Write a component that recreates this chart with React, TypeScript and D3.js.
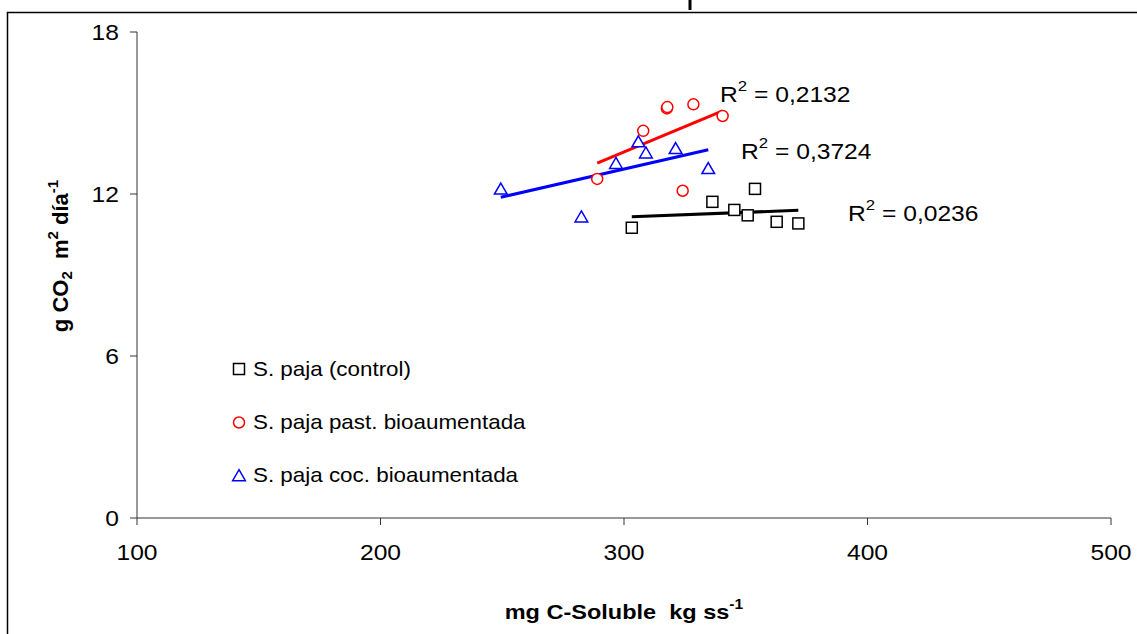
import React from "react";
import * as d3 from "d3";

const xTicks = [100, 200, 300, 400, 500];
const yTicks = [0, 6, 12, 18];

const controlX = [303.2, 336.3, 353.8, 345.3, 350.8, 362.7, 371.6];
const controlY = [10.75, 11.71, 12.19, 11.41, 11.21, 10.97, 10.91];

const pastX = [289.0, 307.9, 317.6, 317.8, 328.5, 340.5, 324.1];
const pastY = [12.56, 14.34, 15.17, 15.22, 15.32, 14.89, 12.12];

const cocX = [249.4, 282.5, 296.7, 305.9, 309.0, 321.2, 334.6];
const cocY = [12.17, 11.14, 13.12, 13.92, 13.51, 13.67, 12.93];

const seriesNames = ["S. paja (control)", "S. paja past. bioaumentada", "S. paja coc. bioaumentada"];
const seriesColors = ["#000000", "#ff0000", "#0000ff"];
const seriesShapes = ["square", "circle", "triangle"];
const r2Labels = ["0,0236", "0,2132", "0,3724"];

const W = 1137;
const H = 634;
const SX = 1.12;
const x = d3.scaleLinear().domain([100, 500]).range([137, 1111]);
const y = d3.scaleLinear().domain([0, 18]).range([518, 32]);

function regress(xs: number[], ys: number[]) {
  const mx = d3.mean(xs)!;
  const my = d3.mean(ys)!;
  let sxy = 0, sxx = 0;
  xs.forEach((v, i) => { sxy += (v - mx) * (ys[i] - my); sxx += (v - mx) ** 2; });
  const b = sxy / sxx;
  const a = my - b * mx;
  const [x0, x1] = d3.extent(xs) as [number, number];
  return [[x0, a + b * x0], [x1, a + b * x1]];
}

function Marker({ shape, cx, cy, color }: { shape: string; cx: number; cy: number; color: string }) {
  if (shape === "square") {
    return <rect x={cx - 5.5} y={cy - 5.5} width={11} height={11} fill="white" stroke={color} strokeWidth={1.5} />;
  }
  if (shape === "circle") {
    return <circle cx={cx} cy={cy} r={5.5} fill="white" stroke={color} strokeWidth={1.5} />;
  }
  const p = d3.symbol().type(d3.symbolTriangle).size(70)();
  return <path d={p!} transform={`translate(${cx},${cy + 1})`} fill="white" stroke={color} strokeWidth={1.5} />;
}

const series = [
  { xs: controlX, ys: controlY },
  { xs: pastX, ys: pastY },
  { xs: cocX, ys: cocY },
];

const r2Pos = [
  { lx: 848, ly: 221 },
  { lx: 720, ly: 102 },
  { lx: 741, ly: 159 },
];

function T({ tx, ty, size, anchor = "start", bold = false, children }: any) {
  return (
    <text
      transform={`translate(${tx},${ty}) scale(${SX},1)`}
      fontSize={size}
      textAnchor={anchor}
      fontWeight={bold ? "bold" : "normal"}
      style={{ whiteSpace: "pre" }}
    >
      {children}
    </text>
  );
}

export default function App() {
  const font = "'Liberation Sans', Arial, sans-serif";
  const line = d3.line<number[]>().x((d) => x(d[0])).y((d) => y(d[1]));
  return (
    <svg width={W} height={H} style={{ position: "absolute", left: 0, top: 0, background: "white" }} fontFamily={font}>
      <rect x={0} y={0} width={W} height={H} fill="white" />
      <rect x={688.5} y={0} width={3} height={10} fill="#000" />
      <rect x={7.5} y={12.5} width={W + 20} height={H + 20} fill="none" stroke="#000" strokeWidth={1.5} />

      {/* axes */}
      <line x1={x(100)} x2={x(100)} y1={y(0)} y2={y(18)} stroke="#333" strokeWidth={1} />
      <line x1={x(100)} x2={x(500)} y1={y(0)} y2={y(0)} stroke="#333" strokeWidth={1} />
      {yTicks.map((t) => (
        <g key={"y" + t}>
          <line x1={x(100) - 7} x2={x(100)} y1={y(t)} y2={y(t)} stroke="#333" strokeWidth={1} />
          <T tx={x(100) - 18} ty={y(t) + 8} size={22} anchor="end">{t}</T>
        </g>
      ))}
      {xTicks.map((t) => (
        <g key={"x" + t}>
          <line x1={x(t)} x2={x(t)} y1={y(0)} y2={y(0) + 7} stroke="#333" strokeWidth={1} />
          <T tx={x(t)} ty={560} size={22} anchor="middle">{t}</T>
        </g>
      ))}

      {/* axis titles */}
      <T tx={624} ty={619} size={21} anchor="middle" bold>
        {"mg C-Soluble\u00a0\u00a0kg ss"}<tspan dy={-10} fontSize={14}>-1</tspan>
      </T>
      <text transform="translate(68,256) rotate(-90)" fontSize={22} fontWeight="bold" textAnchor="middle">
        g CO<tspan dy={4} fontSize={15}>2</tspan><tspan dy={-4}>{"\u00a0\u00a0m"}</tspan><tspan dy={-10} fontSize={15}>2</tspan><tspan dy={10}>{"\u00a0día"}</tspan><tspan dy={-10} fontSize={15}>-1</tspan>
      </text>

      {/* trendlines */}
      {series.map((s, i) => (
        <path key={"t" + i} d={line(regress(s.xs, s.ys))!} stroke={seriesColors[i]} strokeWidth={3} fill="none" />
      ))}

      {/* points */}
      {series.map((s, i) =>
        s.xs.map((v, j) => (
          <Marker key={`m${i}-${j}`} shape={seriesShapes[i]} cx={x(v)} cy={y(s.ys[j])} color={seriesColors[i]} />
        ))
      )}

      {/* R2 labels */}
      {r2Labels.map((l, i) => (
        <T key={"r" + i} tx={r2Pos[i].lx} ty={r2Pos[i].ly} size={22}>
          R<tspan dy={-11} fontSize={15}>2</tspan><tspan dy={11}>{` = ${l}`}</tspan>
        </T>
      ))}

      {/* legend */}
      {seriesNames.map((n, i) => (
        <g key={"l" + i}>
          <Marker shape={seriesShapes[i]} cx={239} cy={369 + i * 53.5} color={seriesColors[i]} />
          <T tx={253} ty={376 + i * 53} size={20}>{n}</T>
        </g>
      ))}
    </svg>
  );
}
